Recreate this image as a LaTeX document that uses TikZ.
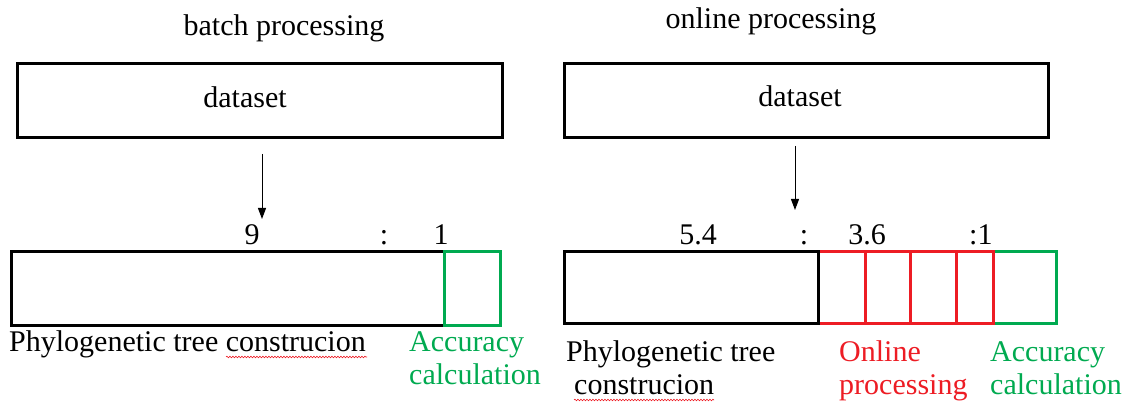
\documentclass[tikz,border=0pt]{standalone}
\usepackage{fontspec}
\setmainfont{Liberation Serif}
\usetikzlibrary{arrows.meta,decorations.pathmorphing}
\definecolor{accgreen}{RGB}{0,170,80}
\definecolor{onred}{RGB}{237,28,36}
\begin{document}
\begin{tikzpicture}[x=1pt,y=-1pt,
  font=\fontsize{30}{33}\selectfont,
  box/.style={draw=black, line width=3pt, inner sep=0pt, outer sep=0pt, anchor=north west},
  gbox/.style={box, draw=accgreen},
  rbox/.style={box, draw=onred},
  lbl/.style={anchor=base, inner sep=0pt},
  lblw/.style={anchor=base west, inner sep=0pt},
  arr/.style={line width=1pt, -{Triangle[length=11pt,width=8pt]}},
  wavy/.style={draw=onred, line width=0.6pt, decorate, decoration={snake, amplitude=0.8pt, segment length=3pt}}
]
\useasboundingbox (0,0) rectangle (1128,403);

% titles
\node[lbl] (t1) at (284,36) {batch processing};
\node[lbl] (t2) at (771,29) {online processing};

% dataset boxes
\node[box, minimum width=485, minimum height=74] (d1) at (17,64) {};
\node[lbl] (d1t) at (245,108) {dataset};
\node[box, minimum width=484, minimum height=74] (d2) at (564,64) {};
\node[lbl] (d2t) at (800,107) {dataset};

% arrows
\coordinate (a1s) at (262,154);
\coordinate (a1e) at (262,219);
\draw[arr] (a1s) -- (a1e);
\coordinate (a2s) at (795,146);
\coordinate (a2e) at (795,210);
\draw[arr] (a2s) -- (a2e);

% left bar
\node[box, minimum width=433, minimum height=74] (tree1) at (11,252) {};
\node[gbox, minimum width=56, minimum height=74] (acc1) at (444,252) {};

% right bar
\node[gbox, minimum width=63, minimum height=72] (acc2) at (993,252) {};
\node[rbox, minimum width=47, minimum height=72] (on1) at (818,252) {};
\node[rbox, minimum width=45, minimum height=72] (on2) at (865,252) {};
\node[rbox, minimum width=46, minimum height=72] (on3) at (910,252) {};
\node[rbox, minimum width=37, minimum height=72] (on4) at (956,252) {};
\node[box, minimum width=254, minimum height=72] (tree2) at (564,252) {};

% ratio labels
\node[lbl] (r9) at (252,245) {9};
\node[lbl] (rc1) at (384,245) {:};
\node[lbl] (r1) at (441,245) {1};
\node[lbl] (r54) at (698,245) {5.4};
\node[lbl] (rc2) at (804,245) {:};
\node[lbl] (r36) at (867,245) {3.6};
\node[lblw] (rc3) at (969,245) {:1};

% bottom labels left
\node[lblw] (p1) at (9,352) {Phylogenetic tree construcion};
\node[lblw, text=accgreen] (ac1a) at (409,352) {Accuracy};
\node[lblw, text=accgreen] (ac1b) at (409,385) {calculation};

% bottom labels right
\node[lblw] (p2a) at (566,362) {Phylogenetic tree};
\node[lblw] (p2b) at (574,395) {construcion};
\node[lblw, text=onred] (o1) at (839,362) {Online};
\node[lblw, text=onred] (o2) at (839,395) {processing};
\node[lblw, text=accgreen] (ac2a) at (990,362) {Accuracy};
\node[lblw, text=accgreen] (ac2b) at (990,395) {calculation};

% spell-check underlines
\coordinate (w1s) at (226,357);
\coordinate (w1e) at (367,357);
\draw[wavy] (w1s) -- (w1e);
\coordinate (w2s) at (574,400);
\coordinate (w2e) at (714,400);
\draw[wavy] (w2s) -- (w2e);
\end{tikzpicture}
\end{document}
